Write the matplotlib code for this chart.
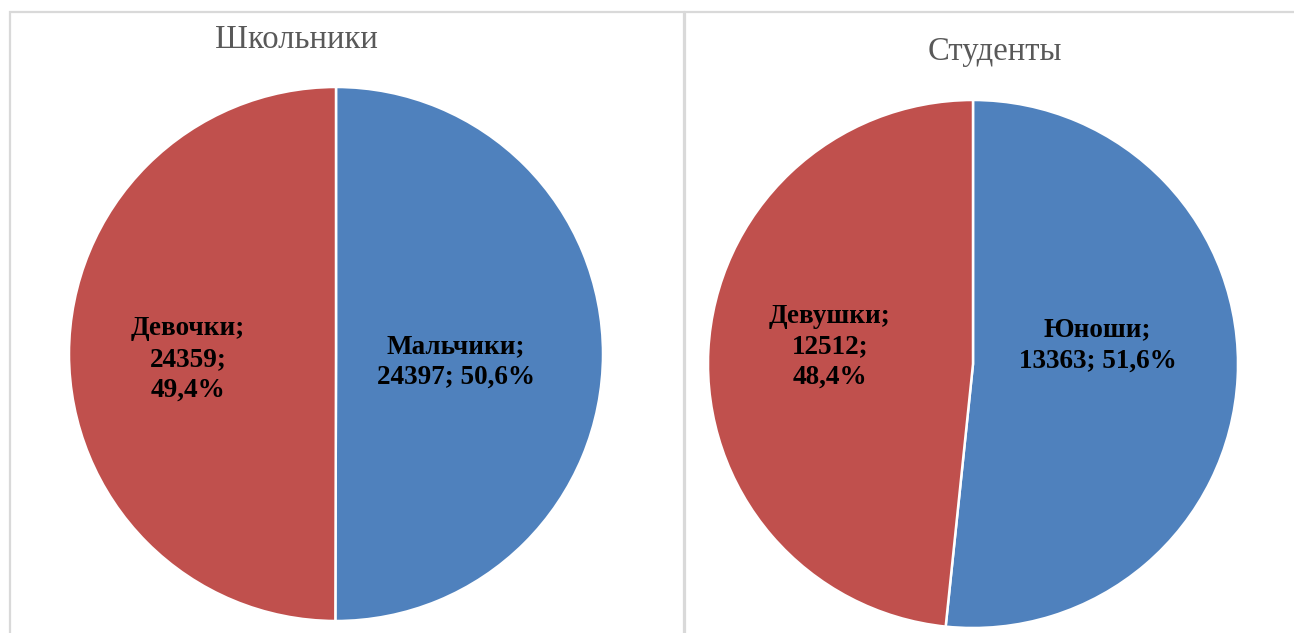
import matplotlib.pyplot as plt
from matplotlib.patches import Rectangle

# данные
titles = ["Школьники", "Студенты"]
school_names = ["Мальчики", "Девочки"]
school_values = [24397, 24359]
school_pct = ["50,6%", "49,4%"]
student_names = ["Юноши", "Девушки"]
student_values = [13363, 12512]
student_pct = ["51,6%", "48,4%"]
colors = ["#4F81BD", "#C0504D"]

W, H = 1294, 633
plt.rcParams['font.family'] = ['Liberation Serif', 'DejaVu Serif']
fig = plt.figure(figsize=(W / 100, H / 100), dpi=100)

def px_axes(left, top, right, bottom):
    return fig.add_axes([left / W, 1 - bottom / H, (right - left) / W, (bottom - top) / H])

# рамки панелей
for x0, x1 in [(10, 684), (685, 1310)]:
    fig.add_artist(Rectangle((x0 / W, -0.05), (x1 - x0) / W, 1 - 12 / H + 0.05,
                             transform=fig.transFigure, fill=False,
                             edgecolor="#d9d9d9", lw=1.6))

panels = [
    (school_names, school_values, school_pct, (69, 87, 603, 621),
     [(0.45, -0.03), (-0.555, -0.02)], ["{};\n{}; {}", "{};\n{};\n{}"], (296, 40)),
    (student_names, student_values, student_pct, (708, 100, 1238, 628),
     [(0.47, 0.07), (-0.54, 0.065)], ["{};\n{}; {}", "{};\n{};\n{}"], (995, 52)),
]

for i, (names, values, pct, box, lpos, fmts, tpos) in enumerate(panels):
    ax = px_axes(*box)
    ax.pie(values, colors=colors, startangle=90, counterclock=False, radius=1,
           wedgeprops=dict(edgecolor="white", linewidth=1.8))
    ax.set_xlim(-1, 1)
    ax.set_ylim(-1, 1)
    ax.set_aspect("auto")
    ax.axis("off")
    for name, v, p, (x, y), fmt in zip(names, values, pct, lpos, fmts):
        ax.text(x, y, fmt.format(name, v, p),
                ha="center", va="center", fontsize=19.5, fontweight="bold",
                color="black", linespacing=1.3)
    fig.text(tpos[0] / W, 1 - tpos[1] / H, titles[i], ha="center", va="center",
             fontsize=23.5, color="#595959")

fig.savefig("out.png", dpi=100, facecolor="white")
